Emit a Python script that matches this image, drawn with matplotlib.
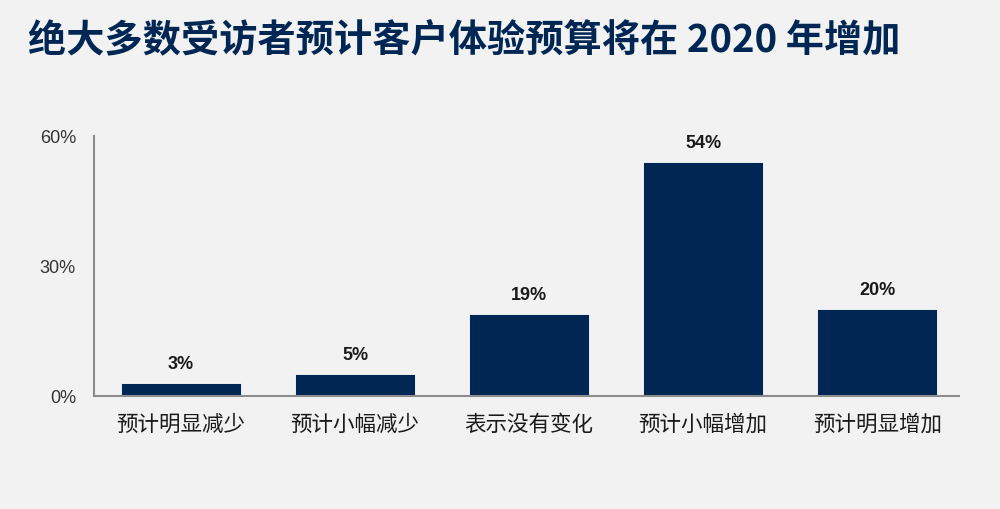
import matplotlib
matplotlib.use("Agg")
import matplotlib.pyplot as plt

categories = ["预计明显减少", "预计小幅减少", "表示没有变化", "预计小幅增加", "预计明显增加"]
values = [3, 5, 19, 54, 20]
value_labels = ["3%", "5%", "19%", "54%", "20%"]
y_ticks = [0, 30, 60]
y_tick_labels = ["0%", "30%", "60%"]
title = "绝大多数受访者预计客户体验预算将在 2020 年增加"

BG = "#f2f2f2"
NAVY = "#002654"
CJK = ["Noto Sans CJK SC", "DejaVu Sans"]
LATIN = ["Liberation Sans", "DejaVu Sans"]

fig = plt.figure(figsize=(10, 5.1), dpi=100, facecolor=BG)
ax = fig.add_axes([0.094, 0.2216, 0.865, 0.5098], facecolor=BG)

x = list(range(len(categories)))
ax.bar(x, values, width=0.69, color=NAVY, edgecolor="white", linewidth=0.6)

for xi, v, lab in zip(x, values, value_labels):
    ax.annotate(lab, (xi, v), xytext=(0, 8), textcoords="offset points",
                ha="center", va="bottom", fontsize=13, fontweight="bold",
                family=LATIN, color="#1a1a1a")

ax.set_xlim(-0.5, 4.47)
ax.set_ylim(0, 60)
ax.set_yticks(y_ticks)
ax.set_yticklabels(y_tick_labels, family=LATIN, fontsize=13, color="#333333")
ax.set_xticks(x)
ax.set_xticklabels(categories, family=CJK, fontsize=15.5, color="#1a1a1a")
ax.tick_params(axis="y", length=0, pad=13)
ax.tick_params(axis="x", length=0, pad=12)

for side in ["top", "right"]:
    ax.spines[side].set_visible(False)
for side in ["left", "bottom"]:
    ax.spines[side].set_color("#8c8c8c")
    ax.spines[side].set_linewidth(1.5)

fig.text(0.028, 0.92, title, family=CJK, fontsize=27.5, fontweight="bold",
         color=NAVY, ha="left", va="center")

fig.savefig("out.png", dpi=100, facecolor=BG)
